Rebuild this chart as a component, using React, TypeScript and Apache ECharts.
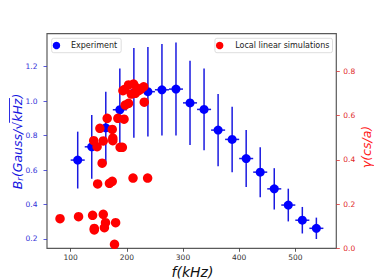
import React, { useEffect, useRef } from "react";
import * as echarts from "echarts";

const freq = [112.5, 137.5, 162.5, 187.5, 212.5, 237.5, 262.5, 287.5, 312.5, 337.5, 362.5, 387.5, 412.5, 437.5, 462.5, 487.5, 512.5, 537.5];
const brVal = [0.658, 0.735, 0.845, 0.95, 1.048, 1.055, 1.066, 1.07, 0.99, 0.952, 0.832, 0.778, 0.667, 0.588, 0.491, 0.397, 0.309, 0.262];
const brErr = [0.165, 0.185, 0.21, 0.24, 0.26, 0.26, 0.266, 0.27, 0.245, 0.237, 0.21, 0.19, 0.165, 0.145, 0.12, 0.095, 0.077, 0.062];
const freqErr = 12.5;

const simFreq = [81, 114, 139, 142, 142, 158, 162, 160, 180, 178, 148, 169, 174, 211, 237, 156, 147, 141, 158, 175, 175, 152, 174, 165, 184, 195, 188, 192, 197, 203, 231, 193, 196, 203, 212, 208, 215, 221, 230, 225, 218];
const simGamma = [0.134, 0.143, 0.149, 0.09, 0.083, 0.154, 0.116, 0.093, 0.116, 0.018, 0.291, 0.294, 0.303, 0.318, 0.318, 0.385, 0.46, 0.487, 0.486, 0.498, 0.487, 0.543, 0.538, 0.588, 0.588, 0.584, 0.457, 0.457, 0.648, 0.656, 0.661, 0.713, 0.719, 0.739, 0.743, 0.698, 0.701, 0.713, 0.731, 0.72, 0.725];

const xTicks = [100, 200, 300, 400, 500];
const leftTicks = [0.2, 0.4, 0.6, 0.8, 1.0, 1.2];
const rightTicks = [0.0, 0.2, 0.4, 0.6, 0.8];

const FONT = "DejaVu Sans";

function measure(text: string, size: number, italic: boolean) {
  const c = document.createElement("canvas").getContext("2d");
  if (!c) return text.length * size * 0.6;
  c.font = `${italic ? "italic " : ""}${size}px "${FONT}"`;
  return c.measureText(text).width;
}

function buildLeftLabel(cx: number, cy: number, color: string) {
  const big = 12.5;
  const small = 8.8;
  const pieces = [
    { t: "B", s: big, dy: 0 },
    { t: "r", s: small, dy: 3 },
    { t: "(Gauss/", s: big, dy: 0 },
    { t: "√", s: big, dy: 0 },
    { t: "kHz", s: big, dy: 0, over: true },
    { t: ")", s: big, dy: 0 },
  ];
  const widths = pieces.map((p) => measure(p.t, p.s, true));
  const total = widths.reduce((a, b) => a + b, 0);
  let x = -total / 2;
  const children: any[] = [];
  pieces.forEach((p, i) => {
    children.push({
      type: "text",
      x,
      y: p.dy,
      style: {
        text: p.t,
        fill: color,
        font: `italic ${p.s}px "${FONT}"`,
        textVerticalAlign: "middle",
        textAlign: "left",
      },
    });
    if ((p as any).over) {
      children.push({
        type: "line",
        shape: { x1: x - 1, y1: -7.5, x2: x + widths[i] + 0.5, y2: -7.5 },
        style: { stroke: color, lineWidth: 0.9 },
      });
    }
    x += widths[i];
  });
  return { type: "group", x: cx, y: cy, rotation: Math.PI / 2, children };
}

export default function App() {
  const ref = useRef<HTMLDivElement>(null);
  useEffect(() => {
    if (!ref.current) return;
    const chart = echarts.init(ref.current, undefined, { renderer: "svg" });
    const expData = freq.map((f, i) => [f, brVal[i]]);
    const errData = freq.map((f, i) => [f, brVal[i], brErr[i]]);
    const simData = simFreq.map((f, i) => [f, simGamma[i]]);
    const blue = "#0000ff";
    const red = "#ff0000";
    const legendCommon = {
      top: 38.3,
      orient: "horizontal",
      icon: "circle",
      itemHeight: 7.5,
      borderColor: "#d4d4d4",
      borderWidth: 0.8,
      borderRadius: 2,
      backgroundColor: "rgba(255,255,255,0.8)",
      textStyle: { fontSize: 8, fontFamily: FONT, color: "#222", lineHeight: 10 },
      selectedMode: false,
    };
    chart.setOption({
      animation: false,
      backgroundColor: "#ffffff",
      grid: {
        left: 47,
        top: 33.7,
        right: 374 - 336.3,
        bottom: 280 - 248.3,
        show: true,
        borderColor: "#5a5a5a",
        borderWidth: 1.2,
        backgroundColor: "transparent",
      },
      legend: [
        {
          ...legendCommon,
          data: ["Experiment"],
          left: 51.7,
          itemWidth: 19,
          padding: [2.2, 4, 2.2, 1],
        },
        {
          ...legendCommon,
          data: ["Local linear simulations"],
          right: 374 - 332.5,
          itemWidth: 21,
          padding: [2.2, 3, 2.2, 1],
        },
      ],
      xAxis: {
        type: "value",
        min: 57.8,
        max: 573,
        splitLine: { show: false },
        axisLine: { show: false },
        axisTick: { show: true, customValues: xTicks, length: 3.5, lineStyle: { color: "#333", width: 0.8 } },
        axisLabel: {
          customValues: xTicks,
          fontSize: 7.5,
          fontFamily: FONT,
          color: "#333",
          margin: 5,
          formatter: (v: number) => String(v),
        },
      },
      yAxis: [
        {
          type: "value",
          position: "left",
          min: 0.146,
          max: 1.3915,
          splitLine: { show: false },
          axisLine: { show: false },
          axisTick: { show: true, customValues: leftTicks, length: 3.5, lineStyle: { color: "#3030d0", width: 0.8 } },
          axisLabel: {
            customValues: leftTicks,
            fontSize: 7.5,
            fontFamily: FONT,
            color: "#3030d8",
            margin: 9.5,
            formatter: (v: number) => v.toFixed(1),
          },
        },
        {
          type: "value",
          position: "right",
          min: 0,
          max: 0.971,
          splitLine: { show: false },
          axisLine: { show: false },
          axisTick: { show: true, customValues: rightTicks, length: 3.5, lineStyle: { color: "#e03030", width: 0.8 } },
          axisLabel: {
            customValues: rightTicks,
            fontSize: 7.5,
            fontFamily: FONT,
            color: "#e02828",
            margin: 7,
            formatter: (v: number) => v.toFixed(1),
          },
        },
      ],
      series: [
        {
          type: "custom",
          xAxisIndex: 0,
          yAxisIndex: 0,
          data: errData,
          encode: { x: 0, y: 1 },
          z: 1,
          renderItem: (params: any, api: any) => {
            const x = api.value(0);
            const y = api.value(1);
            const e = api.value(2);
            const top = api.coord([x, y + e]);
            const bot = api.coord([x, y - e]);
            const l = api.coord([x - freqErr, y]);
            const r = api.coord([x + freqErr, y]);
            const style = { stroke: "#1a1ae0", lineWidth: 1.5 };
            return {
              type: "group",
              children: [
                { type: "line", shape: { x1: top[0], y1: top[1], x2: bot[0], y2: bot[1] }, style },
                { type: "line", shape: { x1: l[0], y1: l[1], x2: r[0], y2: r[1] }, style },
              ],
            };
          },
        },
        {
          name: "Experiment",
          type: "scatter",
          xAxisIndex: 0,
          yAxisIndex: 0,
          data: expData,
          symbol: "circle",
          symbolSize: 9,
          itemStyle: { color: blue, opacity: 1 },
          z: 2,
        },
        {
          name: "Local linear simulations",
          type: "scatter",
          xAxisIndex: 0,
          yAxisIndex: 1,
          data: simData,
          symbol: "circle",
          symbolSize: 9.5,
          itemStyle: { color: red, opacity: 1 },
          z: 3,
        },
      ],
      graphic: [
        buildLeftLabel(17, 141.5, "#1515e0"),
        {
          type: "text",
          x: 366,
          y: 147,
          rotation: Math.PI / 2,
          style: {
            text: "γ(cs/a)",
            fill: "#ff1a1a",
            font: `italic 12.5px "${FONT}"`,
            textAlign: "center",
            textVerticalAlign: "middle",
          },
        },
        {
          type: "text",
          x: 192.5,
          y: 271.5,
          style: {
            text: "f(kHz)",
            fill: "#111",
            font: `italic 14px "${FONT}"`,
            textAlign: "center",
            textVerticalAlign: "middle",
          },
        },
      ],
    });
    return () => chart.dispose();
  }, []);
  return (
    <div
      ref={ref}
      style={{ position: "absolute", left: 0, top: 0, width: 374, height: 280, background: "#fff" }}
    />
  );
}
